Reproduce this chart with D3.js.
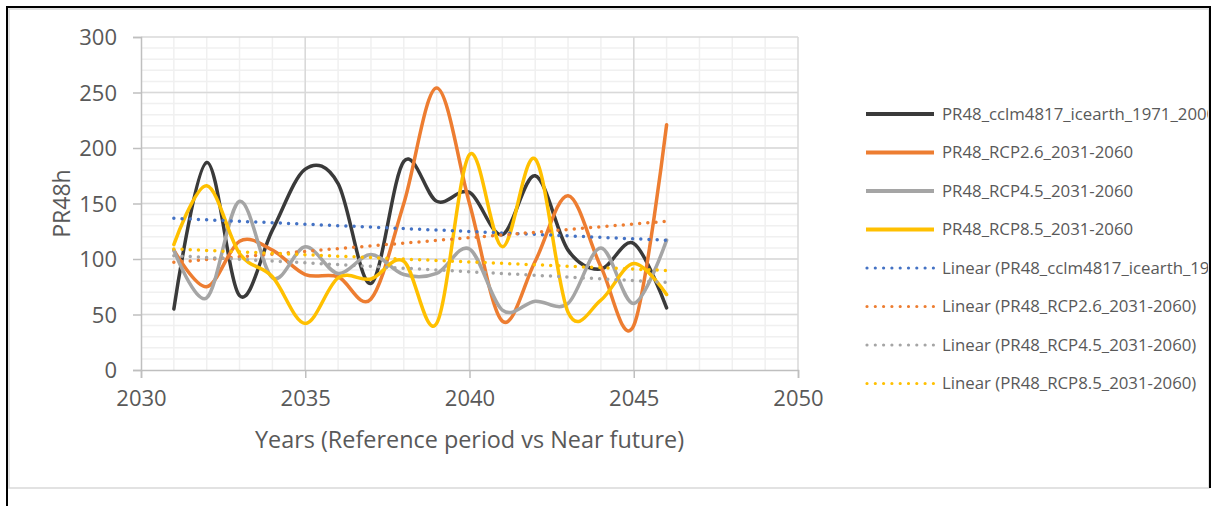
<!DOCTYPE html>
<html>
<head>
<meta charset="utf-8">
<script src="https://cdn.jsdelivr.net/npm/d3@7"></script>
<style>
  html, body { margin: 0; padding: 0; background: #fff; }
  svg { display: block; }
  text { font-family: "Open Sans", "Noto Sans", sans-serif; fill: #595959; }
</style>
</head>
<body>
<svg id="chart" width="1214" height="506"></svg>
<script>
// Annual PR48h values, 2031–2046
const years = [2031, 2032, 2033, 2034, 2035, 2036, 2037, 2038, 2039, 2040, 2041, 2042, 2043, 2044, 2045, 2046];
const cclm4817 = [55, 187, 67, 126, 181, 168, 78, 188, 152, 160, 122, 175, 108, 91, 114, 56];
const rcp26 = [108, 75, 116, 108, 86, 84, 64, 150, 254, 150, 44, 98, 157, 93, 40, 221];
const rcp45 = [108, 65, 152, 83, 111, 87, 104, 86, 87, 109, 54, 62, 60, 110, 60, 117];
const rcp85 = [113, 166, 105, 84, 42, 83, 82, 98, 42, 194, 111, 190, 52, 63, 96, 68];

const seriesNames = [
  "PR48_cclm4817_icearth_1971_2000",
  "PR48_RCP2.6_2031-2060",
  "PR48_RCP4.5_2031-2060",
  "PR48_RCP8.5_2031-2060"
];
const seriesColors = ["#3a3a3a", "#ed7d31", "#a5a5a5", "#ffc000"];
const trendColors = ["#4472c4", "#ed7d31", "#a5a5a5", "#ffc000"];

const xTicks = [2030, 2035, 2040, 2045, 2050];
const yTicks = [0, 50, 100, 150, 200, 250, 300];
const xTitle = "Years (Reference period vs Near future)";
const yTitle = "PR48h";

const svg = d3.select("#chart");

// Outer frame
svg.append("rect").attr("x", 9).attr("y", 9).attr("width", 1200).attr("height", 479)
  .attr("fill", "#fff").attr("stroke", "#d9d9d9").attr("stroke-width", 1.5);
svg.append("path").attr("d", "M7,506 V7 H1210 V488")
  .attr("fill", "none").attr("stroke", "#000").attr("stroke-width", 2);

const plot = { left: 141, right: 798, top: 37, bottom: 370 };
const x = d3.scaleLinear().domain([2030, 2050]).range([plot.left, plot.right]);
const y = d3.scaleLinear().domain([0, 300]).range([plot.bottom, plot.top]);

// Minor grid
const g = svg.append("g");
g.selectAll(".vminor").data(d3.range(2031, 2050)).join("line")
  .attr("x1", d => x(d)).attr("x2", d => x(d)).attr("y1", plot.top).attr("y2", plot.bottom)
  .attr("stroke", "#f0f0f0").attr("stroke-width", 1.5);
g.selectAll(".hminor").data(d3.range(10, 300, 10)).join("line")
  .attr("y1", d => y(d)).attr("y2", d => y(d)).attr("x1", plot.left).attr("x2", plot.right)
  .attr("stroke", "#f0f0f0").attr("stroke-width", 1.5);
// Major grid
g.selectAll(".vmajor").data(xTicks.slice(1)).join("line")
  .attr("x1", d => x(d)).attr("x2", d => x(d)).attr("y1", plot.top).attr("y2", plot.bottom)
  .attr("stroke", "#d9d9d9").attr("stroke-width", 1.5);
g.selectAll(".hmajor").data(yTicks.slice(1)).join("line")
  .attr("y1", d => y(d)).attr("y2", d => y(d)).attr("x1", plot.left).attr("x2", plot.right)
  .attr("stroke", "#d9d9d9").attr("stroke-width", 1.5);

// Axes
const xAxis = svg.append("g").attr("transform", `translate(0,${plot.bottom})`)
  .call(d3.axisBottom(x).tickValues(xTicks).tickFormat(d3.format("d")).tickSize(8).tickPadding(12));
const yAxis = svg.append("g").attr("transform", `translate(${plot.left},0)`)
  .call(d3.axisLeft(y).tickValues(yTicks).tickSize(8).tickPadding(16));
[xAxis, yAxis].forEach(a => {
  a.select(".domain").attr("stroke", "#bfbfbf").attr("stroke-width", 1.5);
  a.selectAll(".tick line").attr("stroke", "#bfbfbf").attr("stroke-width", 1.5);
  a.selectAll(".tick text").attr("font-size", 22).attr("fill", "#595959")
    .style("font-family", '"Open Sans", sans-serif');
});
yAxis.selectAll(".tick text").attr("dy", "0.36em");

svg.append("text").attr("x", (x(2030) + x(2050)) / 2).attr("y", 448)
  .attr("text-anchor", "middle").attr("font-size", 23.4).text(xTitle);
svg.append("text").attr("transform", `translate(70,${(plot.top + plot.bottom) / 2}) rotate(-90)`)
  .attr("text-anchor", "middle").attr("font-size", 23).text(yTitle);

// Series + linear trends
const allSeries = [cclm4817, rcp26, rcp45, rcp85];
const line = d3.line().x((d, i) => x(years[i])).y(d => y(d)).curve(d3.curveCatmullRom.alpha(0));

function linearFit(vals) {
  const mx = d3.mean(years), my = d3.mean(vals);
  let sxy = 0, sxx = 0;
  vals.forEach((v, i) => { sxy += (years[i] - mx) * (v - my); sxx += (years[i] - mx) ** 2; });
  const b = sxy / sxx;
  return yr => my + b * (yr - mx);
}

allSeries.forEach((vals, k) => {
  svg.append("path").datum(vals).attr("d", line)
    .attr("fill", "none").attr("stroke", seriesColors[k]).attr("stroke-width", 3.5)
    .attr("stroke-linejoin", "round").attr("stroke-linecap", "round");
});
allSeries.forEach((vals, k) => {
  const f = linearFit(vals);
  const ends = [years[0], years[years.length - 1]];
  svg.append("path").datum(ends)
    .attr("d", d3.line().x(d => x(d)).y(d => y(f(d))))
    .attr("fill", "none").attr("stroke", trendColors[k]).attr("stroke-width", 3.5)
    .attr("stroke-linecap", "round").attr("stroke-dasharray", "0 8.2");
});

// Legend (entries run past the chart frame and are cut at its edge)
svg.append("clipPath").attr("id", "legclip").append("rect")
  .attr("x", 850).attr("y", 80).attr("width", 358).attr("height", 330);
const legend = svg.append("g").attr("clip-path", "url(#legclip)");
const legendItems = seriesNames.map((n, k) => ({ name: n, color: seriesColors[k], dotted: false }))
  .concat(seriesNames.map((n, k) => ({ name: `Linear (${n})`, color: trendColors[k], dotted: true })));
const rowY = d3.scaleLinear().domain([0, 7]).range([114, 383.5]);
legendItems.forEach((it, i) => {
  const yy = rowY(i);
  legend.append("line").attr("x1", it.dotted ? 867 : 866).attr("x2", 934).attr("y1", yy).attr("y2", yy)
    .attr("stroke", it.color).attr("stroke-width", it.dotted ? 3.2 : 4)
    .attr("stroke-linecap", it.dotted ? "round" : "butt")
    .attr("stroke-dasharray", it.dotted ? "0 8.3" : null);
  legend.append("text").attr("x", 942).attr("y", yy).attr("dy", "0.35em")
    .attr("font-size", 16.8).text(it.name);
});
</script>
</body>
</html>
